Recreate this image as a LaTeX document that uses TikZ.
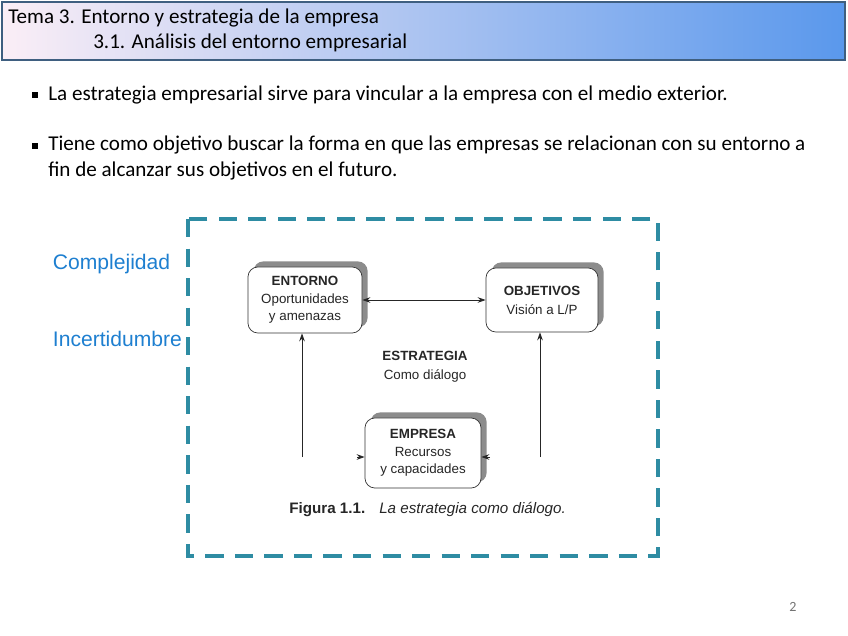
\documentclass[tikz,border=0pt]{standalone}
\usepackage{fontspec}
\setmainfont{Carlito}
\newfontfamily\figfont{Liberation Sans}
\usetikzlibrary{arrows.meta,positioning,shadows}

\definecolor{framecol}{HTML}{2E8CA3}
\definecolor{sidecol}{HTML}{1E7FD0}
\definecolor{headleft}{HTML}{FBEEF6}
\definecolor{headmid}{HTML}{96CAF8}
\definecolor{headright}{HTML}{5A98EC}
\definecolor{headline}{HTML}{3F5F80}
\definecolor{figtext}{HTML}{262626}

\begin{document}
\begin{tikzpicture}[x=0.025cm, y=-0.025cm, >={Stealth[length=2mm,width=1.4mm]},
  figbox/.style={draw=black!80, fill=white, rounded corners=7pt, line width=0.5pt,
    align=center, text=figtext, font=\figfont\fontsize{9.5}{12.5}\selectfont,
    drop shadow={shadow xshift=4pt, shadow yshift=4pt, fill=black!45, opacity=1}},
  figlabel/.style={align=center, text=figtext, font=\figfont\fontsize{9.5}{13.5}\selectfont},
  sidelabel/.style={anchor=west, text=sidecol, font=\figfont\fontsize{15}{18}\selectfont},
  headtext/.style={anchor=base west, inner sep=0pt, font=\fontsize{15}{18}\selectfont},
  bulletsq/.style={fill=black, minimum size=3.8pt, inner sep=0pt},
  bullettext/.style={anchor=west, align=left, inner sep=0pt, font=\fontsize{15}{18.4}\selectfont},
  conn/.style={line width=0.6pt, black!85}]
  \useasboundingbox (0,0) rectangle (848,636);

  % header
  \shade[left color=headleft, middle color=headmid, right color=headright] (2,2) rectangle (845,60);
  \draw[headline, line width=1.4pt] (2,2) rectangle (845,60);
  \node[headtext] (title) at (8,24) {Tema 3. Entorno y estrategia de la empresa};
  \node[headtext] (subtitle) at (93,49) {3.1. Análisis del entorno empresarial};

  % bullets
  \node[bulletsq] (b1) at (35,95) {};
  \node[bullettext] (t1) at (48,95) {La estrategia empresarial sirve para vincular a la empresa con el medio exterior.};
  \node[bulletsq] (b2) at (35,146) {};
  \node[bullettext, anchor=north west] (t2) at (48,136) {Tiene como objetivo buscar la forma en que las empresas se relacionan con su entorno a\\fin de alcanzar sus objetivos en el futuro.};

  % frame
  \draw[framecol, line width=2.2pt, dash pattern=on 13pt off 8pt] (188,219) rectangle (658,556);
  \node[sidelabel] (compl) at (48,264) {Complejidad};
  \node[sidelabel] (incert) at (48,339) {Incertidumbre};

  % figure
  \node[figbox, minimum width=2.85cm, minimum height=1.65cm] (ent) at (305,300) {\textbf{ENTORNO}\\Oportunidades\\y amenazas};
  \node[figbox, minimum width=2.8cm, minimum height=1.6cm] (obj) at (542,300) {\textbf{OBJETIVOS}\\[1pt]Visión a L/P};
  \node[figbox, minimum width=2.9cm, minimum height=1.75cm] (emp) at (423,453) {\textbf{EMPRESA}\\Recursos\\y capacidades};
  \node[figlabel] (estr) at (425,367) {\textbf{ESTRATEGIA}\\Como diálogo};

  \coordinate (lb) at (302,457);
  \coordinate (rb) at (540,457);
  \coordinate (ml) at (357,457);
  \coordinate (mr) at (490,457);
  \draw[conn, <->] (ent.east) -- (obj.west);
  \draw[conn, ->] (lb) -- (lb |- ent.south);
  \draw[conn, ->] (rb) -- (rb |- obj.south);
  \draw[conn, ->] (ml) -- (ml -| emp.west);
  \draw[conn, ->] (mr) -- (mr -| emp.east);

  \node[anchor=west, inner sep=0pt, text=figtext, font=\figfont\fontsize{10.8}{13}\selectfont] (cap) at (289,510) {\textbf{Figura 1.1.}\hspace{10pt}\textit{La estrategia como diálogo.}};

  % page number
  \node[text=black!55, font=\fontsize{10}{12}\selectfont] (page) at (793,607) {2};
\end{tikzpicture}
\end{document}
